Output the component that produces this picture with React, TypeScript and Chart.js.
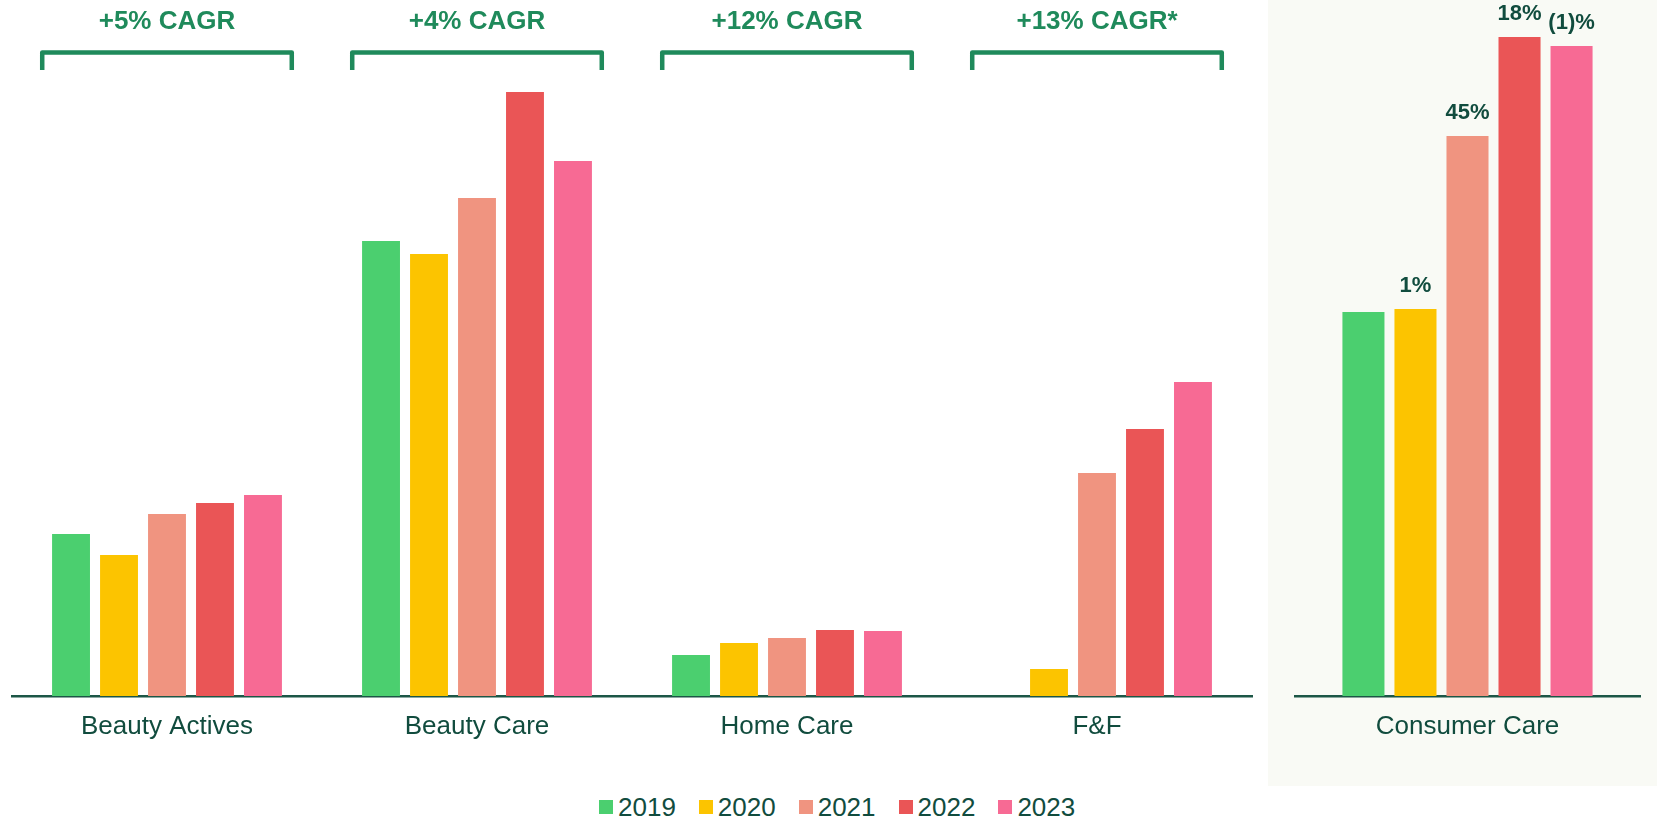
import React, { useEffect, useRef } from "react";
import { Chart, registerables } from "chart.js";

Chart.register(...registerables);

// ---------- data ----------
const years = ["2019", "2020", "2021", "2022", "2023"];
const segments = ["Beauty Actives", "Beauty Care", "Home Care", "F&F"];
const cagrLabels = ["+5% CAGR", "+4% CAGR", "+12% CAGR", "+13% CAGR*"];

// values per year across segments (relative scale)
const v2019 = [162, 455, 41, null];
const v2020 = [141, 442, 53, 27];
const v2021 = [182, 498, 58, 223];
const v2022 = [193, 604, 66, 267];
const v2023 = [201, 535, 65, 314];
const segmentSeries = [v2019, v2020, v2021, v2022, v2023];

const consumerCategory = ["Consumer Care"];
const consumerCare = [384, 387, 560, 659, 650];
const consumerGrowth = ["", "1%", "45%", "18%", "(1)%"];

const leftMax = 620;
const rightMax = 660;

// ---------- styles ----------
const yearColors = ["#4BCF6F", "#FCC400", "#F09480", "#EA5556", "#F76A94"];
const textColor = "#114C3E";
const cagrColor = "#1F8A5B";
const axisColor = "#1C5646";
const panelBg = "#F9FAF5";
const FONT = "'Liberation Sans', Arial, sans-serif";

const cagrPlugin = {
  id: "cagrBrackets",
  afterDraw(chart: any) {
    const { ctx, chartArea } = chart;
    const xs = chart.scales.x;
    const catW = xs.getPixelForValue(1) - xs.getPixelForValue(0);
    const bw = catW * 0.805;
    const top = chartArea.top;
    ctx.save();
    cagrLabels.forEach((lab, i) => {
      const cx = xs.getPixelForValue(i);
      const x1 = cx - bw / 2;
      const x2 = cx + bw / 2;
      ctx.strokeStyle = cagrColor;
      ctx.lineWidth = 4.5;
      ctx.lineJoin = "round";
      ctx.lineCap = "butt";
      ctx.beginPath();
      ctx.moveTo(x1, top - 6);
      ctx.lineTo(x1, top - 23.5);
      ctx.lineTo(x2, top - 23.5);
      ctx.lineTo(x2, top - 6);
      ctx.stroke();
      ctx.fillStyle = cagrColor;
      ctx.font = `bold 26px ${FONT}`;
      ctx.textAlign = "center";
      ctx.textBaseline = "middle";
      ctx.fillText(lab, cx, top - 54);
    });
    ctx.restore();
  },
};

const growthPlugin = {
  id: "growthLabels",
  afterDatasetsDraw(chart: any) {
    const { ctx } = chart;
    ctx.save();
    ctx.fillStyle = textColor;
    ctx.font = `bold 22px ${FONT}`;
    ctx.textAlign = "center";
    ctx.textBaseline = "middle";
    chart.data.datasets.forEach((_: any, i: number) => {
      const bar = chart.getDatasetMeta(i).data[0];
      const t = consumerGrowth[i];
      if (bar && t) ctx.fillText(t, bar.x, bar.y - 23);
    });
    ctx.restore();
  },
};

function xAxis() {
  return {
    grid: { display: false, drawTicks: false },
    border: { display: true, color: axisColor, width: 2.5 },
    ticks: {
      color: textColor,
      padding: 15,
      font: { family: FONT, size: 26 },
    },
    afterFit(scale: any) {
      scale.height = 90;
    },
  };
}

export default function App() {
  const leftRef = useRef<HTMLCanvasElement>(null);
  const rightRef = useRef<HTMLCanvasElement>(null);

  useEffect(() => {
    document.body.style.margin = "0";
    document.body.style.overflow = "hidden";

    const left = new Chart(leftRef.current!, {
      type: "bar",
      data: {
        labels: segments,
        datasets: years.map((y, i) => ({
          label: y,
          data: segmentSeries[i],
          backgroundColor: yearColors[i],
          borderWidth: 0,
          categoryPercentage: 0.774,
          barPercentage: 0.79,
        })),
      },
      options: {
        responsive: false,
        animation: false,
        layout: { padding: { left: 12, right: 16, top: 76, bottom: 0 } },
        plugins: { legend: { display: false }, tooltip: { enabled: false } },
        scales: {
          x: xAxis() as any,
          y: { display: false, min: 0, max: leftMax },
        },
      },
      plugins: [cagrPlugin],
    });

    const right = new Chart(rightRef.current!, {
      type: "bar",
      data: {
        labels: consumerCategory,
        datasets: years.map((y, i) => ({
          label: y,
          data: [consumerCare[i]],
          backgroundColor: yearColors[i],
          borderWidth: 0,
          categoryPercentage: 0.754,
          barPercentage: 0.808,
        })),
      },
      options: {
        responsive: false,
        animation: false,
        layout: { padding: { left: 27, right: 17, top: 36, bottom: 0 } },
        plugins: { legend: { display: false }, tooltip: { enabled: false } },
        scales: {
          x: xAxis() as any,
          y: { display: false, min: 0, max: rightMax },
        },
      },
      plugins: [growthPlugin],
    });

    return () => {
      left.destroy();
      right.destroy();
    };
  }, []);

  return (
    <div style={{ position: "relative", width: 1657, height: 821, overflow: "hidden", fontFamily: FONT }}>
      <div style={{ position: "absolute", left: 1268, top: 0, width: 389, height: 786, background: panelBg }} />
      <canvas ref={leftRef} width={1268} height={786} style={{ position: "absolute", left: 0, top: 0, display: "block" }} />
      <canvas ref={rightRef} width={389} height={786} style={{ position: "absolute", left: 1268, top: 0, display: "block" }} />
      <div
        style={{
          position: "absolute",
          left: 599,
          top: 794,
          display: "flex",
          alignItems: "center",
          gap: 23,
          color: textColor,
          fontSize: 26,
          lineHeight: "26px",
        }}
      >
        {years.map((y, i) => (
          <div key={y} style={{ display: "flex", alignItems: "center" }}>
            <span style={{ display: "inline-block", width: 14, height: 14, background: yearColors[i], marginRight: 5 }} />
            <span>{y}</span>
          </div>
        ))}
      </div>
    </div>
  );
}
